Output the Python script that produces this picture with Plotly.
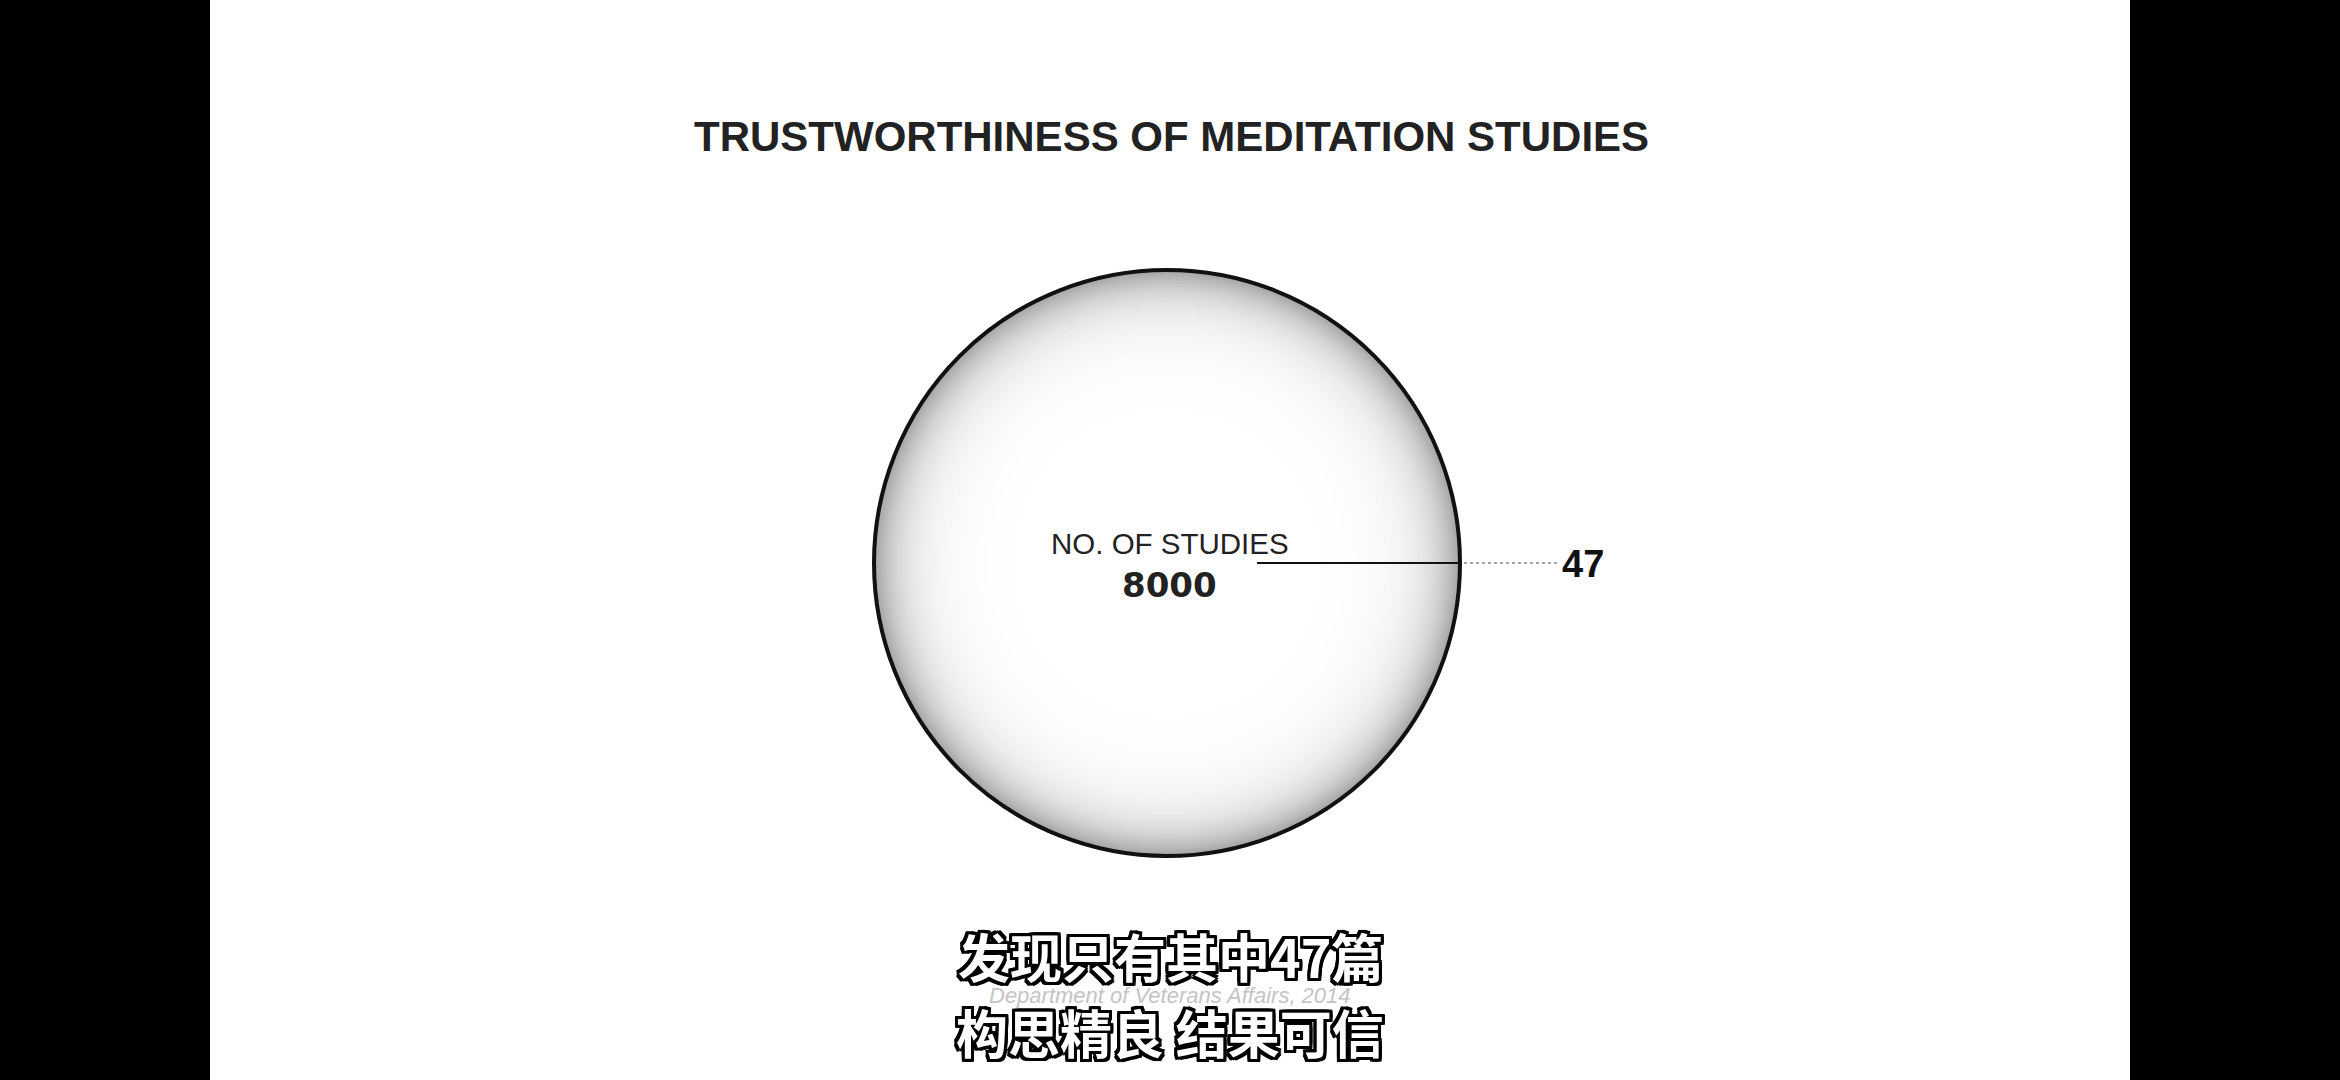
import numpy as np
import plotly.graph_objects as go

# ---------------- data ----------------
title_text = "TRUSTWORTHINESS OF MEDITATION STUDIES"
measure_labels = ["NO. OF STUDIES"]
total_studies = [8000]
trustworthy_studies = [47]
source_text = "Department of Veterans Affairs, 2014"
subtitle_lines = ["发现只有其中47篇", "构思精良 结果可信"]

# ---------------- layout constants ----------------
W, H = 2340, 1080
side_bar = 210                      # black side bars (px)
radius_scale = 293 / np.sqrt(8000)  # px per sqrt(study)
cx, cy = -3, -23                    # circle centre in plot units (1 unit = 1 px)

R = radius_scale * np.sqrt(total_studies[0])

shapes = []
# radial shading: grey at rim, fading to white inwards
step = 1.5
n_rings = 90
for i in range(n_rings + 1):
    t = i * step
    r = R - t
    d = 0.36 * np.exp(-t / 28.0)
    g = int(round(255 * (1 - d)))
    shapes.append(dict(type="circle", xref="x", yref="y",
                       x0=cx - r, x1=cx + r, y0=cy - r, y1=cy + r,
                       fillcolor=f"rgb({g},{g},{g})", line=dict(width=0),
                       layer="below"))
r_in = R - n_rings * step - step
shapes.append(dict(type="circle", xref="x", yref="y",
                   x0=cx - r_in, x1=cx + r_in, y0=cy - r_in, y1=cy + r_in,
                   fillcolor="white", line=dict(width=0), layer="below"))
# outline
shapes.append(dict(type="circle", xref="x", yref="y",
                   x0=cx - R, x1=cx + R, y0=cy - R, y1=cy + R,
                   fillcolor="rgba(0,0,0,0)", line=dict(color="#111", width=4)))

fig = go.Figure()

# leader line inside the circle
fig.add_trace(go.Scatter(x=[cx + 90, cx + R], y=[cy, cy], mode="lines",
                         line=dict(color="#111", width=2.2),
                         hoverinfo="skip", showlegend=False))
# dotted connector to the label
fig.add_trace(go.Scatter(x=[cx + R + 4, cx + R + 98], y=[cy, cy], mode="lines",
                         line=dict(color="#888", width=1.6, dash="dot"),
                         hoverinfo="skip", showlegend=False))

annotations = [
    dict(text=title_text, x=1, y=404, xref="x", yref="y", showarrow=False,
         font=dict(family="Liberation Sans, Arial", size=42, color="#222", weight="bold"),
         xanchor="center", yanchor="middle"),
    dict(text=measure_labels[0], x=0, y=-3, xref="x", yref="y", showarrow=False,
         font=dict(family="Liberation Sans, Arial", size=29.5, color="#222"),
         xanchor="center", yanchor="middle"),
    dict(text=f"{total_studies[0]}", x=-1, y=-45, xref="x", yref="y", showarrow=False,
         font=dict(family="DejaVu Sans", size=34, color="#222", weight="bold"),
         xanchor="center", yanchor="middle"),
    dict(text=f"{trustworthy_studies[0]}", x=cx + R + 100, y=cy - 1, xref="x", yref="y",
         showarrow=False,
         font=dict(family="Liberation Sans, Arial", size=38, color="#111", weight="bold"),
         xanchor="left", yanchor="middle"),
    dict(text=source_text, x=0, y=-455, xref="x", yref="y", showarrow=False,
         font=dict(family="Liberation Sans, Arial", size=22, color="#c4c4c4", style="italic"),
         xanchor="center", yanchor="middle"),
]

outline = ", ".join(f"{dx}px {dy}px 0 #000" for dx, dy in
                    [(-3, -3), (3, -3), (-3, 3), (3, 3), (0, 3), (0, -3), (3, 0), (-3, 0),
                     (-2, 3), (2, 3), (-2, -3), (2, -3), (3, 2), (3, -2), (-3, 2), (-3, -2)])
for line_text, yy in zip(subtitle_lines, [-415, -491]):
    annotations.append(dict(text=line_text, x=0, y=yy, xref="x", yref="y", showarrow=False,
                            font=dict(family="Noto Sans CJK SC", size=52, color="white",
                                      weight="bold", shadow=outline),
                            xanchor="center", yanchor="middle"))

plot_w = W - 2 * side_bar
fig.update_layout(
    width=W, height=H,
    margin=dict(l=0, r=0, t=0, b=0, pad=0),
    paper_bgcolor="black",
    plot_bgcolor="white",
    shapes=shapes,
    annotations=annotations,
    xaxis=dict(domain=[side_bar / W, (W - side_bar) / W], range=[-plot_w / 2, plot_w / 2],
               visible=False, showgrid=False, zeroline=False, fixedrange=True),
    yaxis=dict(domain=[0, 1], range=[-H / 2, H / 2], visible=False, showgrid=False,
               zeroline=False, fixedrange=True, scaleanchor="x", scaleratio=1),
    showlegend=False,
    hovermode=False,
)

fig.write_html("out.html", config={"displayModeBar": False})
